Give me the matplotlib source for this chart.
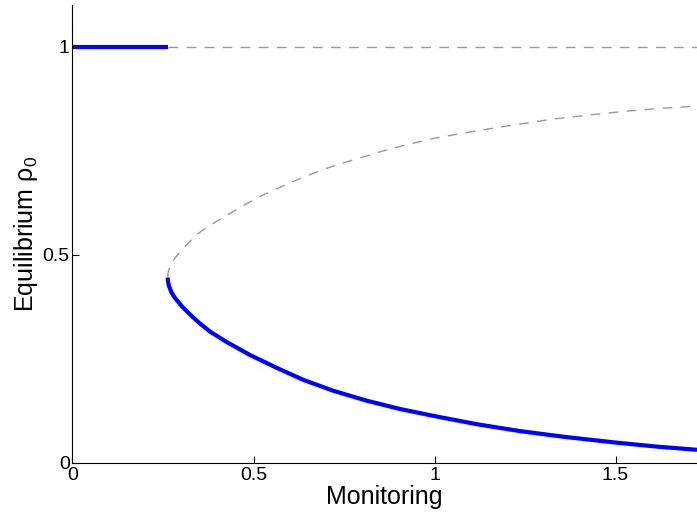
import matplotlib.pyplot as plt

plt.rcParams['font.family'] = ['Liberation Sans', 'DejaVu Sans']
plt.rcParams['mathtext.fontset'] = 'custom'
plt.rcParams['mathtext.rm'] = 'Liberation Sans'

# rama estable (azul) y rama inestable (gris discontinua)
x_top_stable = [0.0, 0.263]
y_top_stable = [1.0, 1.0]
x_top_unstable = [0.263, 1.725]
y_top_unstable = [1.0, 1.0]

x_low = [0.263, 0.2637, 0.2664, 0.273, 0.283, 0.303, 0.325, 0.35, 0.38,
         0.426, 0.49, 0.564, 0.638, 0.72, 0.813, 0.905, 1.006, 1.12, 1.236,
         1.36, 1.494, 1.61, 1.725]
y_low = [0.445, 0.436, 0.425, 0.41, 0.396, 0.375, 0.356, 0.336, 0.315,
         0.290, 0.259, 0.228, 0.199, 0.173, 0.149, 0.129, 0.111, 0.092, 0.076,
         0.062, 0.049, 0.039, 0.031]

x_up = [0.263, 0.264, 0.268, 0.275, 0.282, 0.291, 0.31, 0.329, 0.35, 0.375,
        0.421, 0.472, 0.518, 0.564, 0.61, 0.661, 0.707, 0.757, 0.808, 0.857,
        0.909, 1.0, 1.126, 1.228, 1.328, 1.43, 1.531, 1.63, 1.725]
y_up = [0.445, 0.456, 0.469, 0.481, 0.491, 0.5, 0.519, 0.536, 0.5525, 0.568,
        0.592, 0.618, 0.64, 0.658, 0.676, 0.694, 0.709, 0.723, 0.736, 0.749,
        0.761, 0.78, 0.799, 0.813, 0.826, 0.836, 0.845, 0.852, 0.857]

xticks = [0, 0.5, 1, 1.5]
yticks = [0, 0.5, 1]

fig = plt.figure(figsize=(6.97, 5.23), dpi=100)
ax = fig.add_axes([0.104, 0.1153, 0.896, 0.8751])

blue = '#0000ff'
grey = '#999999'
ax.plot(x_top_unstable, y_top_unstable, color=grey, lw=1, dashes=(7, 6))
ax.plot(x_up, y_up, color=grey, lw=1, dashes=(7, 6))
ax.plot(x_top_stable, y_top_stable, color=blue, lw=3, solid_capstyle='butt')
ax.plot(x_low, y_low, color=blue, lw=3, solid_capstyle='butt',
        solid_joinstyle='round')

ax.set_xlim(0, 1.725)
ax.set_ylim(0, 1.1)
ax.set_xticks(xticks)
ax.set_xticklabels(['0', '0.5', '1', '1.5'])
ax.set_yticks(yticks)
ax.set_yticklabels(['0', '0.5', '1'])

ax.spines['top'].set_visible(False)
ax.spines['right'].set_visible(False)
ax.tick_params(direction='in', length=5, width=0.8, labelsize=14)
ax.tick_params(axis='x', pad=3)
ax.tick_params(axis='y', pad=2)

ax.set_xlabel('Monitoring', fontsize=18, labelpad=1)
ax.set_ylabel('Equilibrium ρ$_0$', fontsize=18, labelpad=2)

plt.savefig('out.png', dpi=100)
